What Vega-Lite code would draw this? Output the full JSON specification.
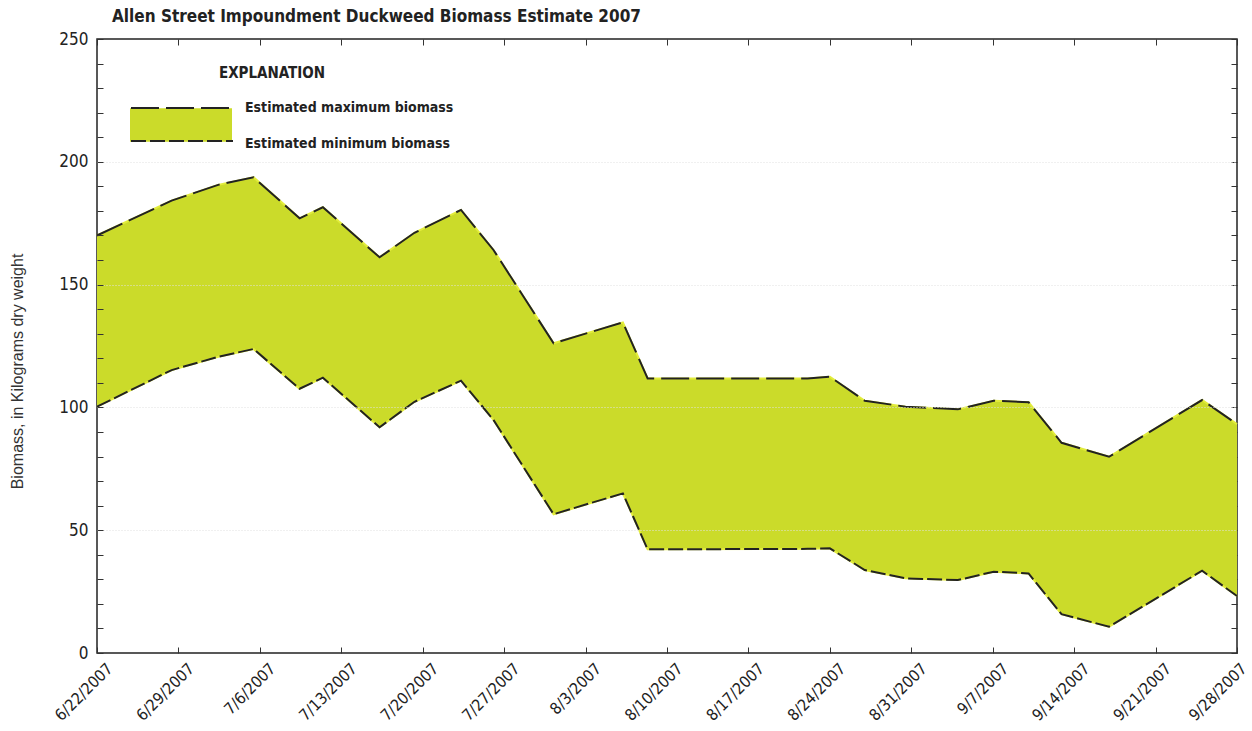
{
  "$schema": "https://vega.github.io/schema/vega-lite/v6.json",
  "width": 1140,
  "height": 614,
  "autosize": {"type": "none"},
  "padding": {"left": 97, "top": 39, "right": 15, "bottom": 78},
  "background": "white",
  "config": {
    "view": {"stroke": "#222", "strokeWidth": 1.5},
    "font": "Liberation Sans Narrow, DejaVu Sans Condensed, sans-serif"
  },
  "title": {
    "text": "Allen Street Impoundment Duckweed Biomass Estimate 2007",
    "anchor": "start", "frame": "group", "dx": 15, "offset": 4,
    "font": "Liberation Sans Narrow, DejaVu Sans Condensed, sans-serif", "fontSize": 17, "fontWeight": "bold", "color": "#222"
  },
  "data": {"values": [
    {"date": "2007-06-22T00:00", "max": 170.0, "min": 100.3},
    {"date": "2007-06-28T10:00", "max": 184.2, "min": 115.2},
    {"date": "2007-07-02T10:00", "max": 190.6, "min": 120.6},
    {"date": "2007-07-05T11:00", "max": 193.7, "min": 123.8},
    {"date": "2007-07-09T10:00", "max": 177.0, "min": 107.6},
    {"date": "2007-07-11T10:00", "max": 181.5, "min": 112.1},
    {"date": "2007-07-16T07:00", "max": 161.1, "min": 91.9},
    {"date": "2007-07-19T07:00", "max": 171.1, "min": 102.3},
    {"date": "2007-07-23T07:00", "max": 180.4, "min": 110.9},
    {"date": "2007-07-26T02:00", "max": 164.1, "min": 94.9},
    {"date": "2007-07-31T06:00", "max": 126.1, "min": 56.5},
    {"date": "2007-08-06T05:00", "max": 134.6, "min": 65.0},
    {"date": "2007-08-08T08:00", "max": 111.8, "min": 42.2},
    {"date": "2007-08-22T02:00", "max": 111.8, "min": 42.4},
    {"date": "2007-08-24T00:00", "max": 112.5, "min": 42.6},
    {"date": "2007-08-27T00:00", "max": 102.7, "min": 33.8},
    {"date": "2007-08-30T12:00", "max": 100.3, "min": 30.4},
    {"date": "2007-09-04T00:00", "max": 99.2, "min": 29.7},
    {"date": "2007-09-07T02:00", "max": 102.7, "min": 33.1},
    {"date": "2007-09-10T02:00", "max": 102.1, "min": 32.4},
    {"date": "2007-09-12T22:00", "max": 85.6, "min": 15.8},
    {"date": "2007-09-17T00:00", "max": 79.9, "min": 10.7},
    {"date": "2007-09-25T00:00", "max": 103.0, "min": 33.5},
    {"date": "2007-09-28T00:00", "max": 93.2, "min": 23.2}
  ]},
  "layer": [
    {
      "mark": {"type": "area"},
      "encoding": {
        "x": {
          "field": "date", "type": "temporal",
          "scale": {"domain": [{"year": 2007, "month": 6, "date": 22}, {"year": 2007, "month": 9, "date": 28}]},
          "axis": {
            "orient": "bottom", "title": null, "domain": false, "grid": false,
            "values": [
              {"year": 2007, "month": 6, "date": 22}, {"year": 2007, "month": 6, "date": 29},
              {"year": 2007, "month": 7, "date": 6}, {"year": 2007, "month": 7, "date": 13},
              {"year": 2007, "month": 7, "date": 20}, {"year": 2007, "month": 7, "date": 27},
              {"year": 2007, "month": 8, "date": 3}, {"year": 2007, "month": 8, "date": 10},
              {"year": 2007, "month": 8, "date": 17}, {"year": 2007, "month": 8, "date": 24},
              {"year": 2007, "month": 8, "date": 31}, {"year": 2007, "month": 9, "date": 7},
              {"year": 2007, "month": 9, "date": 14}, {"year": 2007, "month": 9, "date": 21},
              {"year": 2007, "month": 9, "date": 28}
            ],
            "format": "%-m/%-d/%Y", "labelAngle": -45, "labelAlign": "right", "labelBaseline": "top",
            "labelFontSize": 16, "labelColor": "#222", "labelPadding": 13,
            "labelOffset": {"condition": {"test": "month(datum.value) === 8 && date(datum.value) === 28", "value": 1}, "value": 7},
            "labelFlush": false, "labelOverlap": false, "labelLimit": 0,
            "tickSize": -6, "tickColor": "#333", "tickWidth": 1
          }
        },
        "y": {
          "field": "max", "type": "quantitative",
          "scale": {"domain": [0, 250], "nice": false},
          "axis": {
            "orient": "left", "domain": false,
            "values": [0,10,20,30,40,50,60,70,80,90,100,110,120,130,140,150,160,170,180,190,200,210,220,230,240,250],
            "labelExpr": "datum.value % 50 === 0 ? datum.label : ''",
            "labelFontSize": 17, "labelColor": "#222", "labelPadding": 15,
            "tickSize": -6, "tickColor": "#333",
            "grid": true, "gridDash": [1, 2], "gridWidth": 1,
            "gridColor": {"condition": {"test": "datum.value % 50 === 0 && datum.value > 0 && datum.value < 250", "value": "#e0e0e0"}, "value": "transparent"},
            "zindex": 1,
            "title": "Biomass, in Kilograms dry weight",
            "titleFont": "Liberation Sans, Arial, sans-serif", "titleFontSize": 16, "titleFontWeight": "normal", "titleColor": "#333",
            "titleAngle": 270, "titleX": -80, "titleY": 332, "titleAlign": "center", "titleBaseline": "middle"
          }
        },
        "y2": {"field": "min"},
        "fill": {
          "datum": "range",
          "scale": {"range": ["#CBDB2A"]},
          "legend": {
            "orient": "none", "legendX": 33, "legendY": 35, "title": null, "padding": 0,
            "symbolType": "M-1,-0.33H1V0.33H-1Z", "symbolSize": 10404, "symbolStrokeWidth": 0, "symbolOpacity": 1,
            "labelExpr": "''"
          }
        }
      }
    },
    {
      "transform": [{"fold": ["max", "min"], "as": ["series", "value"]}],
      "mark": {"type": "line", "stroke": "#E2EC3C", "strokeWidth": 2},
      "encoding": {
        "x": {
          "field": "date", "type": "temporal",
          "scale": {"domain": [{"year": 2007, "month": 6, "date": 22}, {"year": 2007, "month": 9, "date": 28}]},
          "axis": {
            "orient": "top", "title": null, "domain": false, "grid": false, "labels": false,
            "values": [
              {"year": 2007, "month": 6, "date": 22}, {"year": 2007, "month": 6, "date": 29},
              {"year": 2007, "month": 7, "date": 6}, {"year": 2007, "month": 7, "date": 13},
              {"year": 2007, "month": 7, "date": 20}, {"year": 2007, "month": 7, "date": 27},
              {"year": 2007, "month": 8, "date": 3}, {"year": 2007, "month": 8, "date": 10},
              {"year": 2007, "month": 8, "date": 17}, {"year": 2007, "month": 8, "date": 24},
              {"year": 2007, "month": 8, "date": 31}, {"year": 2007, "month": 9, "date": 7},
              {"year": 2007, "month": 9, "date": 14}, {"year": 2007, "month": 9, "date": 21},
              {"year": 2007, "month": 9, "date": 28}
            ],
            "tickSize": -6, "tickColor": "#333"
          }
        },
        "y": {
          "field": "value", "type": "quantitative",
          "scale": {"domain": [0, 250], "nice": false},
          "axis": {
            "orient": "right", "title": null, "domain": false, "grid": false, "labels": false,
            "values": [0,10,20,30,40,50,60,70,80,90,100,110,120,130,140,150,160,170,180,190,200,210,220,230,240,250],
            "tickSize": -6, "tickColor": "#333"
          }
        },
        "detail": {"field": "series"}
      }
    },
    {
      "mark": {"type": "line", "stroke": "#222", "strokeWidth": 2},
      "encoding": {
        "x": {"field": "date", "type": "temporal", "axis": null},
        "y": {"field": "max", "type": "quantitative", "axis": null},
        "strokeDash": {
          "datum": "Estimated maximum biomass",
          "scale": {"range": [[28, 7]]},
          "legend": {
            "orient": "none", "legendX": 33, "legendY": 27, "padding": 0,
            "title": "EXPLANATION", "titleFontSize": 15, "titleFontWeight": "bold", "titleColor": "#222",
            "titleFont": "Liberation Sans Narrow, DejaVu Sans Condensed, sans-serif",
            "titleAnchor": "middle", "titlePadding": -25,
            "encode": {"title": {"update": {"dx": {"value": -20}}}},
            "symbolType": "stroke", "symbolSize": 10404, "symbolStrokeWidth": 2, "symbolStrokeColor": "#222",
            "labelFontSize": 14, "labelFontWeight": "bold", "labelColor": "#222", "labelLimit": 0,
            "labelFont": "Liberation Sans Narrow, DejaVu Sans Condensed, sans-serif",
            "labelOffset": 11
          }
        }
      }
    },
    {
      "mark": {"type": "line", "stroke": "#222", "strokeWidth": 2},
      "encoding": {
        "x": {"field": "date", "type": "temporal", "axis": null},
        "y": {"field": "min", "type": "quantitative", "axis": null},
        "strokeDash": {
          "datum": "Estimated minimum biomass",
          "scale": {"range": [[15, 4]]},
          "legend": {
            "orient": "none", "legendX": 33, "legendY": 50, "padding": 0, "title": null,
            "symbolType": "stroke", "symbolSize": 10404, "symbolStrokeWidth": 2, "symbolStrokeColor": "#222",
            "labelFontSize": 14, "labelFontWeight": "bold", "labelColor": "#222", "labelLimit": 0,
            "labelFont": "Liberation Sans Narrow, DejaVu Sans Condensed, sans-serif",
            "labelOffset": 11,
            "encode": {"labels": {"update": {"dy": {"value": 3}}}}
          }
        }
      }
    }
  ],
  "resolve": {
    "axis": {"x": "independent", "y": "independent"},
    "scale": {"strokeDash": "independent"},
    "legend": {"strokeDash": "independent"}
  }
}
